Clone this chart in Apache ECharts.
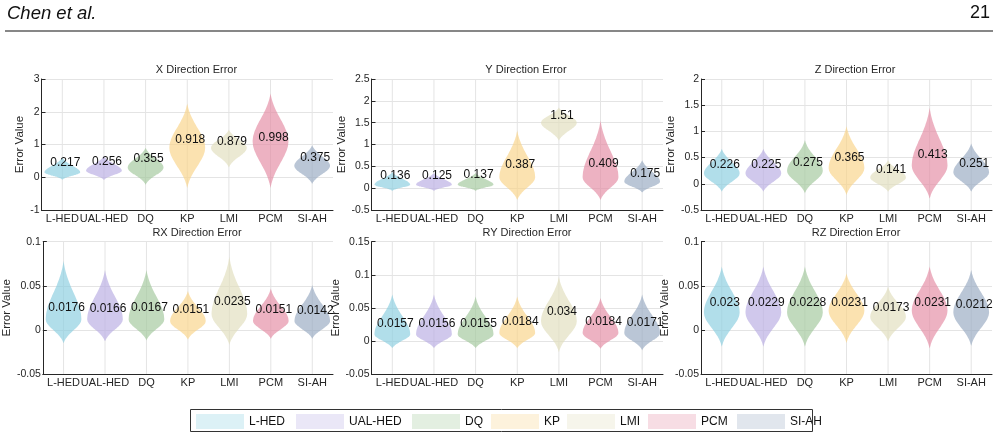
<!DOCTYPE html>
<html>
<head>
<meta charset="utf-8">
<script src="https://cdn.jsdelivr.net/npm/echarts@6/dist/echarts.min.js"></script>
<style>html,body{margin:0;padding:0;background:#fff;}#c{width:999px;height:434px;}</style>
</head>
<body>
<div id="c"></div>
<script>
// ---------------- DATA ----------------
const categories = ['L-HED', 'UAL-HED', 'DQ', 'KP', 'LMI', 'PCM', 'SI-AH'];

// X direction (mean, violin low tip, densest value, high tip)
const xMean = [0.217, 0.256, 0.355, 0.918, 0.879, 0.998, 0.375];
const xLow  = [-0.08, -0.08, -0.23, -0.33, 0.30, -0.33, -0.20];
const xMode = [0.15, 0.20, 0.30, 0.90, 0.90, 1.10, 0.35];
const xHigh = [0.60, 0.65, 0.90, 2.25, 1.45, 2.56, 0.98];

const yMean = [0.136, 0.125, 0.137, 0.387, 1.51, 0.409, 0.175];
const yLow  = [-0.06, -0.06, -0.06, -0.27, 1.09, -0.27, -0.10];
const yMode = [0.08, 0.08, 0.08, 0.25, 1.50, 0.25, 0.15];
const yHigh = [0.37, 0.35, 0.35, 1.32, 1.85, 1.55, 0.64];

const zMean = [0.226, 0.225, 0.275, 0.365, 0.141, 0.413, 0.251];
const zLow  = [-0.15, -0.15, -0.18, -0.21, -0.15, -0.28, -0.15];
const zMode = [0.20, 0.20, 0.25, 0.30, 0.12, 0.35, 0.22];
const zHigh = [0.67, 0.67, 0.83, 1.10, 0.45, 1.45, 0.77];

const rxMean = [0.0176, 0.0166, 0.0167, 0.0151, 0.0235, 0.0151, 0.0142];
const rxLow  = [-0.015, -0.013, -0.012, -0.011, -0.017, -0.010, -0.010];
const rxMode = [0.012, 0.012, 0.012, 0.010, 0.018, 0.010, 0.010];
const rxHigh = [0.078, 0.068, 0.068, 0.044, 0.083, 0.047, 0.051];

const ryMean = [0.0157, 0.0156, 0.0155, 0.0184, 0.034, 0.0184, 0.0171];
const ryLow  = [-0.011, -0.011, -0.011, -0.011, -0.017, -0.012, -0.014];
const ryMode = [0.010, 0.010, 0.010, 0.012, 0.030, 0.012, 0.012];
const ryHigh = [0.070, 0.070, 0.067, 0.067, 0.097, 0.065, 0.070];

const rzMean = [0.023, 0.0229, 0.0228, 0.0231, 0.0173, 0.0231, 0.0212];
const rzLow  = [-0.019, -0.019, -0.019, -0.015, -0.013, -0.021, -0.018];
const rzMode = [0.020, 0.020, 0.020, 0.022, 0.015, 0.022, 0.020];
const rzHigh = [0.072, 0.072, 0.072, 0.064, 0.049, 0.072, 0.068];

// axis ranges / tick steps
const panelTitles = ['X Direction Error', 'Y Direction Error', 'Z Direction Error',
                     'RX Direction Error', 'RY Direction Error', 'RZ Direction Error'];
const yMins = [-1, -0.5, -0.5, -0.05, -0.05, -0.05];
const yMaxs = [3, 2.5, 2, 0.1, 0.15, 0.1];
const ySteps = [1, 0.5, 0.5, 0.05, 0.05, 0.05];

// ---------------- STYLE ----------------
const baseRGB = [[140,207,224],[185,174,227],[163,201,157],[249,212,138],[226,222,190],[228,141,165],[154,171,194]];
const violinAlpha = 0.68, legendAlpha = 0.3;
const FONT = '"Liberation Sans", Arial, Helvetica, sans-serif';
const TXT = '#262626';

const panels = [
  {mean: xMean, low: xLow, mode: xMode, high: xHigh},
  {mean: yMean, low: yLow, mode: yMode, high: yHigh},
  {mean: zMean, low: zLow, mode: zMode, high: zHigh},
  {mean: rxMean, low: rxLow, mode: rxMode, high: rxHigh},
  {mean: ryMean, low: ryLow, mode: ryMode, high: ryHigh},
  {mean: rzMean, low: rzLow, mode: rzMode, high: rzHigh}
];

const cols = [{left: 41.5, width: 291.5}, {left: 371.5, width: 291.5}, {left: 701, width: 291}];
const rows = [{top: 79, height: 131}, {top: 241.7, height: 132.3}];
const titleX = [196.5, 526, 855, 197, 527, 856];
const titleY = [71, 234];
const nameGaps = [14, 17, 18, 25, 24, 25];

// violin outline template (relative half-width vs. fractional distance from densest value)
const tplW = [1, 0.974, 0.899, 0.785, 0.648, 0.502, 0.362, 0.238, 0.136, 0.057, 0];

function rgba(c, a) { return 'rgba(' + c[0] + ',' + c[1] + ',' + c[2] + ',' + a + ')'; }
function fmt(v) { return String(parseFloat(Number(v).toFixed(4))); }

const grids = [], xAxes = [], yAxes = [], series = [], titles = [];

panels.forEach(function (p, k) {
  const r = rows[Math.floor(k / 3)], c = cols[k % 3];
  grids.push({left: c.left, width: c.width, top: r.top, height: r.height, containLabel: false});
  xAxes.push({
    type: 'category', gridIndex: k, data: categories, boundaryGap: true,
    axisLine: {onZero: false, lineStyle: {color: TXT, width: 1}},
    axisTick: {alignWithLabel: true, inside: true, length: 4, lineStyle: {color: TXT}},
    axisLabel: {color: TXT, fontSize: 11, fontFamily: FONT, margin: 3, interval: 0},
    splitLine: {show: false}
  });
  yAxes.push({
    type: 'value', gridIndex: k, min: yMins[k], max: yMaxs[k], interval: ySteps[k],
    name: 'Error Value', nameLocation: 'middle', nameGap: nameGaps[k],
    nameTextStyle: {color: TXT, fontSize: 11.5, fontFamily: FONT},
    axisLine: {show: true, lineStyle: {color: TXT, width: 1}},
    axisTick: {show: true, inside: true, length: 4, lineStyle: {color: TXT}},
    axisLabel: {color: TXT, fontSize: 10.5, fontFamily: FONT, margin: 2, formatter: fmt},
    splitLine: {show: true, lineStyle: {color: '#e4e4e4', width: 1}}
  });
  titles.push({
    text: panelTitles[k], left: titleX[k], top: titleY[Math.floor(k / 3)] - 7,
    textAlign: 'center', padding: 0,
    textStyle: {color: TXT, fontSize: 11, fontWeight: 'normal', fontFamily: FONT}
  });

  // vertical grid lines at categories
  series.push({
    type: 'custom', xAxisIndex: k, yAxisIndex: k, z: 1, silent: true,
    data: categories.map(function (n, i) { return [i]; }),
    renderItem: function (params, api) {
      const cs = params.coordSys;
      const x = api.coord([api.value(0), yMins[k]])[0];
      return {type: 'line', shape: {x1: x, y1: cs.y, x2: x, y2: cs.y + cs.height},
              style: {stroke: '#e4e4e4', lineWidth: 1}};
    }
  });

  // violins
  categories.forEach(function (name, i) {
    series.push({
      type: 'custom', name: name, xAxisIndex: k, yAxisIndex: k, z: 2, silent: true,
      itemStyle: {color: rgba(baseRGB[i], violinAlpha)},
      data: [[i, p.low[i], p.mode[i], p.high[i]]],
      renderItem: function (params, api) {
        const ci = api.value(0), lo = api.value(1), md = api.value(2), hi = api.value(3);
        const cx = api.coord([ci, md])[0];
        const hw = api.size([1, 0])[0] * 0.43;
        const n = tplW.length - 1;
        const right = [];
        for (let j = n; j >= 0; j--) {
          const v = md + (hi - md) * j / n;
          right.push([cx + hw * tplW[j], api.coord([ci, v])[1]]);
        }
        for (let j = 1; j <= n; j++) {
          const v = md - (md - lo) * j / n;
          right.push([cx + hw * tplW[j], api.coord([ci, v])[1]]);
        }
        const left = right.slice().reverse().map(function (pt) { return [2 * cx - pt[0], pt[1]]; });
        return {type: 'polygon', shape: {points: right.concat(left), smooth: 0.15},
                style: {fill: rgba(baseRGB[i], violinAlpha)}};
      }
    });
  });

  // mean labels
  series.push({
    type: 'custom', xAxisIndex: k, yAxisIndex: k, z: 5, silent: true,
    data: p.mean.map(function (m, i) { return [i, m]; }),
    renderItem: function (params, api) {
      const pt = api.coord([api.value(0), api.value(1)]);
      return {type: 'text', x: pt[0] + 3, y: pt[1] - 1,
              style: {text: String(api.value(1)), fill: '#111', font: '12px ' + FONT,
                      textAlign: 'center', textVerticalAlign: 'bottom'}};
    }
  });
});

// legend: one component per entry (uneven MATLAB spacing)
const legendLeft = [196, 296, 412, 491, 567, 648, 737];
const legends = categories.map(function (name, i) {
  return {
    data: [{name: name, itemStyle: {color: rgba(baseRGB[i], legendAlpha)}}],
    left: legendLeft[i], top: 414, padding: 0, itemWidth: 48, itemHeight: 15,
    icon: 'rect', selectedMode: false,
    textStyle: {color: '#111', fontSize: 12, fontFamily: FONT}
  };
});

const option = {
  backgroundColor: '#fff',
  animation: false,
  title: titles,
  grid: grids,
  xAxis: xAxes,
  yAxis: yAxes,
  legend: legends,
  series: series,
  graphic: [
    {type: 'text', left: 7, top: 4, style: {text: 'Chen et al.', font: 'italic 18.5px ' + FONT, fill: '#111'}},
    {type: 'text', right: 9, top: 4, style: {text: '21', font: '18px ' + FONT, fill: '#111'}},
    {type: 'line', shape: {x1: 5, y1: 31, x2: 993, y2: 31}, style: {stroke: '#111', lineWidth: 1.2}},
    {type: 'rect', shape: {x: 190.5, y: 409.5, width: 622, height: 22}, style: {fill: 'none', stroke: '#333', lineWidth: 1}, z: 10}
  ]
};

const chart = echarts.init(document.getElementById('c'), null, {renderer: 'canvas'});
chart.setOption(option);
</script>
</body>
</html>
